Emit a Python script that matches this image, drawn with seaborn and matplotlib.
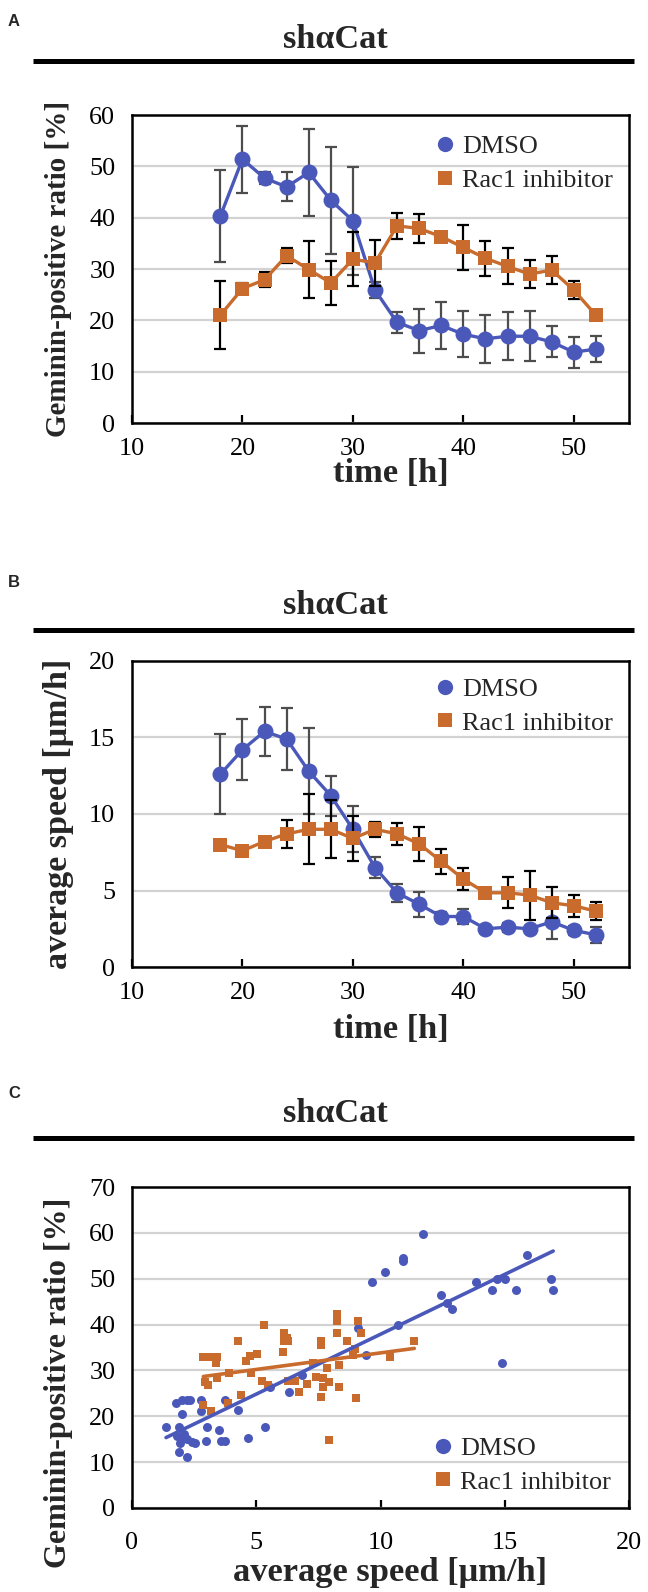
import matplotlib
matplotlib.use("Agg")
import matplotlib.pyplot as plt
import seaborn as sns
import pandas as pd
from matplotlib.lines import Line2D

# ---------------- data ----------------
time_h = [18, 20, 22, 24, 26, 28, 30, 32, 34, 36, 38, 40, 42, 44, 46, 48, 50, 52]

ratio_dmso = [40.3, 51.4, 47.7, 46.0, 48.8, 43.4, 39.4, 25.9, 19.6, 18.0, 19.0, 17.3, 16.4, 16.9, 16.9, 15.8, 13.8, 14.4]
ratio_dmso_err = [9.0, 6.5, 1.2, 2.8, 8.4, 10.4, 10.5, 1.5, 2.1, 4.3, 4.6, 4.5, 4.7, 4.7, 4.9, 3.0, 3.0, 2.5]
ratio_rac1 = [21.0, 26.2, 27.9, 32.6, 29.9, 27.3, 31.9, 31.2, 38.4, 37.9, 36.3, 34.2, 32.1, 30.5, 29.0, 29.8, 25.9, 21.0]
ratio_rac1_err = [6.6, 1.0, 1.5, 1.5, 5.5, 4.3, 5.3, 4.5, 2.5, 2.8, 1.0, 4.3, 3.4, 3.5, 2.7, 2.8, 1.8, 0.5]

speed_dmso = [12.6, 14.2, 15.4, 14.9, 12.8, 11.2, 9.0, 6.5, 4.85, 4.1, 3.3, 3.3, 2.5, 2.6, 2.5, 2.95, 2.4, 2.1]
speed_dmso_err = [2.6, 2.0, 1.6, 2.0, 2.8, 1.3, 1.5, 0.7, 0.6, 0.8, 0.3, 0.5, 0.2, 0.3, 0.2, 1.1, 0.3, 0.5]
speed_rac1 = [8.0, 7.6, 8.2, 8.7, 9.0, 9.0, 8.4, 9.0, 8.7, 8.05, 6.9, 5.75, 4.85, 4.85, 4.7, 4.2, 4.0, 3.65]
speed_rac1_err = [0.2, 0.3, 0.2, 0.9, 2.3, 1.9, 1.5, 0.5, 0.7, 1.1, 0.8, 0.7, 0.2, 1.0, 1.6, 1.0, 0.7, 0.6]

sc_dmso_speed = [1.37, 1.77, 2.0, 2.2, 2.33, 2.0, 1.89, 1.82, 2.0, 2.2, 1.9, 2.23, 2.54, 2.98, 2.76, 2.76,
                 3.0, 3.51, 3.6, 3.74, 3.74, 4.25, 4.68, 5.35, 5.55, 6.32, 6.85, 9.1, 9.42, 10.7, 9.65, 10.2,
                 10.9, 10.9, 11.7, 12.43, 12.66, 12.87, 13.84, 14.47, 14.7, 15.0, 15.44, 15.88, 16.85, 16.95,
                 14.9, 2.1, 2.4, 1.95]
sc_dmso_ratio = [17.7, 22.9, 23.5, 23.5, 23.5, 20.5, 17.7, 15.6, 15.6, 15.0, 12.3, 11.2, 14.1, 14.6, 23.5, 21.1,
                 17.7, 17.0, 14.6, 14.6, 23.5, 21.4, 15.3, 17.7, 26.4, 25.2, 29.0, 39.3, 33.4, 39.8, 49.2, 51.5,
                 54.5, 53.8, 59.8, 46.4, 44.6, 43.5, 49.2, 47.5, 49.9, 49.9, 47.5, 55.2, 49.9, 47.5,
                 31.7, 16.2, 14.5, 14.2]

sc_rac1_speed = [2.87, 3.17, 3.43, 3.38, 3.07, 2.94, 3.41, 2.87, 3.18, 3.92, 3.85, 4.37, 4.25, 4.59, 4.75,
                 5.02, 5.32, 4.79, 5.22, 5.49, 6.12, 6.12, 6.29, 6.09, 6.29, 6.56, 6.73, 7.03, 7.27, 7.6,
                 7.6, 7.4, 7.7, 7.94, 7.7, 7.6, 7.83, 7.93, 8.24, 8.24, 8.24, 8.67, 8.35, 8.35, 8.97, 8.88,
                 9.1, 9.2, 9.0, 10.4, 11.36, 6.22]
sc_rac1_ratio = [32.9, 32.9, 32.9, 31.6, 26.8, 27.5, 28.3, 22.4, 21.2, 29.5, 22.8, 24.6, 36.4, 32.1, 33.1,
                 33.6, 40.0, 29.5, 27.8, 26.8, 38.2, 36.5, 36.5, 34.1, 27.8, 27.8, 25.4, 27.0, 31.6, 36.5,
                 35.6, 28.5, 28.3, 27.5, 26.3, 24.1, 30.5, 14.8, 42.4, 40.7, 38.2, 36.4, 26.4, 31.1, 34.7, 33.4,
                 40.7, 38.2, 24.0, 32.9, 36.4, 37.1]

groups = ["DMSO", "Rac1 inhibitor"]
time_ticks = [10, 20, 30, 40, 50]
ratio_ticks = [0, 10, 20, 30, 40, 50, 60]
speed_ticks = [0, 5, 10, 15, 20]
scatter_xticks = [0, 5, 10, 15, 20]
scatter_yticks = [0, 10, 20, 30, 40, 50, 60, 70]

# ---------------- style ----------------
BLUE = "#4A59B9"
ORANGE = "#C86B2D"
GRID = "#D2D2D2"

sns.set_theme(style="white")
plt.rcParams["font.family"] = ["Liberation Serif", "DejaVu Serif"]

W, H = 648, 1592
fig = plt.figure(figsize=(W / 100, H / 100), dpi=100)


def add_ax(l, t, r, b):
    return fig.add_axes([l / W, 1 - b / H, (r - l) / W, (b - t) / H])


def header(letter, letter_y, title_y, line_y):
    fig.text(14 / W, 1 - letter_y / H, letter, family=["Liberation Sans", "DejaVu Sans"],
             fontweight="bold", fontsize=12, ha="center", va="center")
    fig.text(335 / W, 1 - title_y / H, "sh\u03b1Cat", fontsize=24.7, fontweight="bold",
             ha="center", va="center")
    fig.add_artist(Line2D([33 / W, 634 / W], [1 - line_y / H] * 2, transform=fig.transFigure,
                          color="black", lw=3.6, solid_capstyle="butt"))


def style_axes(ax, xlim, xticks, ylim, yticks, xlabel, ylabel, ylab_size, xlab_y, ylab_x,
               ylab_yc=0.5, xpad=11):
    ax.set_xlim(*xlim)
    ax.set_ylim(*ylim)
    ax.set_xticks(xticks)
    ax.set_yticks(yticks)
    ax.set_axisbelow(True)
    ax.yaxis.grid(True, color=GRID, lw=1.6)
    ax.xaxis.grid(False)
    for s in ax.spines.values():
        s.set_visible(True)
        s.set_color("black")
        s.set_linewidth(1.8)
    ax.tick_params(axis="x", direction="in", length=6, width=1.6, bottom=True,
                   labelsize=18.8, pad=xpad, colors="black")
    ax.tick_params(axis="y", length=0, labelsize=18.8, pad=12, colors="black")
    ax.set_xlabel(xlabel, fontsize=24.8, fontweight="bold")
    ax.set_ylabel(ylabel, fontsize=ylab_size, fontweight="bold")
    ax.xaxis.set_label_coords(0.52, xlab_y)
    ax.xaxis.label.set_va("center")
    ax.yaxis.set_label_coords(ylab_x, ylab_yc)
    ax.yaxis.label.set_va("center")


def legend(ax, loc, anchor):
    handles = [Line2D([], [], ls="none", marker="o", color=BLUE, markersize=11, markeredgewidth=0),
               Line2D([], [], ls="none", marker="s", color=ORANGE, markersize=10.5, markeredgewidth=0)]
    ax.legend(handles, groups, loc=loc, bbox_to_anchor=anchor, frameon=False, fontsize=18.9,
              handletextpad=0.15, labelspacing=0.38, borderaxespad=0, handlelength=1.0,
              borderpad=0)


def time_panel(ax, v_dmso, e_dmso, v_rac1, e_rac1):
    df = pd.DataFrame({
        "time": time_h * 2,
        "value": v_dmso + v_rac1,
        "err": e_dmso + e_rac1,
        "group": [groups[0]] * len(time_h) + [groups[1]] * len(time_h),
    })
    spec = [(groups[0], BLUE, "o", "#4d4d4d", 11.5), (groups[1], ORANGE, "s", "black", 10.5)]
    z = 2
    for name, color, marker, ecolor, ms in spec:
        sub = df[df["group"] == name]
        ax.errorbar(sub["time"], sub["value"], yerr=sub["err"], fmt="none", ecolor=ecolor,
                    elinewidth=1.6, capsize=4.5, capthick=1.6, zorder=z)
        sns.lineplot(data=sub, x="time", y="value", color=color, marker=marker, markersize=ms,
                     markeredgewidth=0, linewidth=2.4, ax=ax, legend=False, errorbar=None,
                     zorder=z + 1)
        z += 2


YLAB_X = (59 - 132) / 497

# ---------------- Panel A ----------------
header("A", 21, 40, 61)
axA = add_ax(132, 115, 629, 423)
time_panel(axA, ratio_dmso, ratio_dmso_err, ratio_rac1, ratio_rac1_err)
style_axes(axA, (10, 55), time_ticks, (0, 60), ratio_ticks, "time [h]",
           "Geminin-positive ratio [%]", 21, (423 - 474) / 308, YLAB_X)
legend(axA, "upper left", (0.604, 0.935))

# ---------------- Panel B ----------------
header("B", 583, 605, 630)
axB = add_ax(132, 661, 629, 967)
time_panel(axB, speed_dmso, speed_dmso_err, speed_rac1, speed_rac1_err)
style_axes(axB, (10, 55), time_ticks, (0, 20), speed_ticks, "time [h]",
           "average speed [\u03bcm/h]", 24.5, (967 - 1030) / 306, YLAB_X)
legend(axB, "upper left", (0.604, 0.945))

# ---------------- Panel C ----------------
header("C", 1093, 1114, 1138)
axC = add_ax(132, 1187, 629, 1508)
sc = pd.DataFrame({
    "speed": sc_dmso_speed + sc_rac1_speed,
    "ratio": sc_dmso_ratio + sc_rac1_ratio,
    "group": [groups[0]] * len(sc_dmso_speed) + [groups[1]] * len(sc_rac1_speed),
})
for name, color, marker, s in [(groups[0], BLUE, "o", 42), (groups[1], ORANGE, "s", 34)]:
    sub = sc[sc["group"] == name]
    sns.scatterplot(data=sub, x="speed", y="ratio", color=color, marker=marker, s=s,
                    linewidth=0, ax=axC, legend=False, zorder=3)
    sns.regplot(data=sub, x="speed", y="ratio", ax=axC, scatter=False, ci=None, truncate=True,
                line_kws=dict(color=color, lw=2.6, zorder=4))
style_axes(axC, (0, 20), scatter_xticks, (0, 70), scatter_yticks, "average speed [\u03bcm/h]",
           "Geminin-positive ratio [%]", 23, (1508 - 1573) / 321, YLAB_X,
           ylab_yc=0.39, xpad=17)
legend(axC, "lower left", (0.6, 0.045))

fig.savefig("out.png", dpi=100)
